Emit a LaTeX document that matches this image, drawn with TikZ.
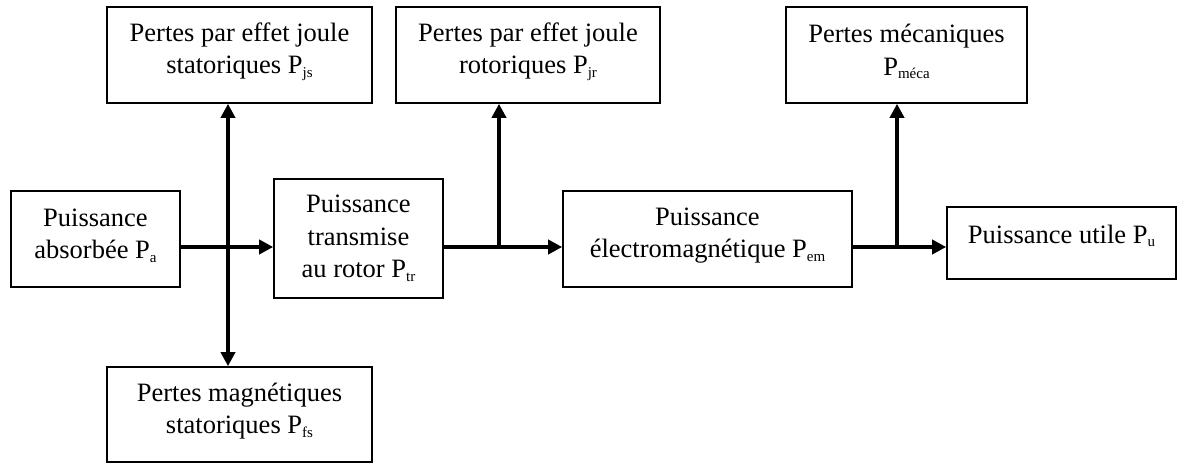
\documentclass[tikz,border=0pt]{standalone}
\usepackage{fontspec}
\setmainfont{Liberation Serif}
\usetikzlibrary{arrows.meta}
\newcommand\sbs[1]{\raisebox{-0.3ex}{\fontsize{15}{15}\selectfont #1}}
\begin{document}
\begin{tikzpicture}[x=1pt,y=-1pt,
  box/.style={draw, line width=1.6pt, inner sep=0pt},
  txt/.style={align=center, inner sep=0pt, font=\fontsize{26.5}{32.5}\selectfont},
  flow/.style={line width=4pt, -{Triangle[length=14pt,width=14pt]}}]
\useasboundingbox (0,0) rectangle (1187,463);
\node[box, minimum width=169pt, minimum height=96pt,
  label={[txt,yshift=3.5pt]center:{Puissance\\absorbée P\sbs{a}}}] (A) at (95.5,239) {};
\node[box, minimum width=265pt, minimum height=96pt,
  label={[txt,yshift=3.5pt]center:{Pertes par effet joule\\statoriques P\sbs{js}}}] (Pjs) at (239.5,55) {};
\node[box, minimum width=264pt, minimum height=96pt,
  label={[txt,yshift=3.5pt]center:{Pertes par effet joule\\rotoriques P\sbs{jr}}}] (Pjr) at (528,55) {};
\node[box, minimum width=241pt, minimum height=96pt,
  label={[txt,yshift=3.5pt]center:{Pertes mécaniques\\P\sbs{méca}}}] (Pme) at (906.5,55) {};
\node[box, minimum width=265pt, minimum height=95pt,
  label={[txt,yshift=3.5pt]center:{Pertes magnétiques\\statoriques P\sbs{fs}}}] (Pfs) at (239.5,414.5) {};
\node[box, minimum width=169pt, minimum height=119pt,
  label={[txt]center:{Puissance\\transmise\\au rotor P\sbs{tr}}}] (Ptr) at (358.5,238.5) {};
\node[box, minimum width=289pt, minimum height=96pt,
  label={[txt,yshift=3.5pt]center:{Puissance\\électromagnétique P\sbs{em}}}] (Pem) at (707.5,239) {};
\node[box, minimum width=229pt, minimum height=72pt,
  label={[txt,yshift=7pt]center:{Puissance utile P\sbs{u}}}] (Pu) at (1061.5,243) {};
\coordinate (j1) at (228,247);
\coordinate (j2) at (499,247);
\coordinate (j3) at (897,247);
\draw[flow] (j1 -| A.east) -- (j1 -| Ptr.west);
\draw[flow] (j1) -- (j1 |- Pjs.south);
\draw[flow] (j1) -- (j1 |- Pfs.north);
\draw[flow] (j2 -| Ptr.east) -- (j2 -| Pem.west);
\draw[flow] (j2) -- (j2 |- Pjr.south);
\draw[flow] (j3 -| Pem.east) -- (j3 -| Pu.west);
\draw[flow] (j3) -- (j3 |- Pme.south);
\end{tikzpicture}
\end{document}
